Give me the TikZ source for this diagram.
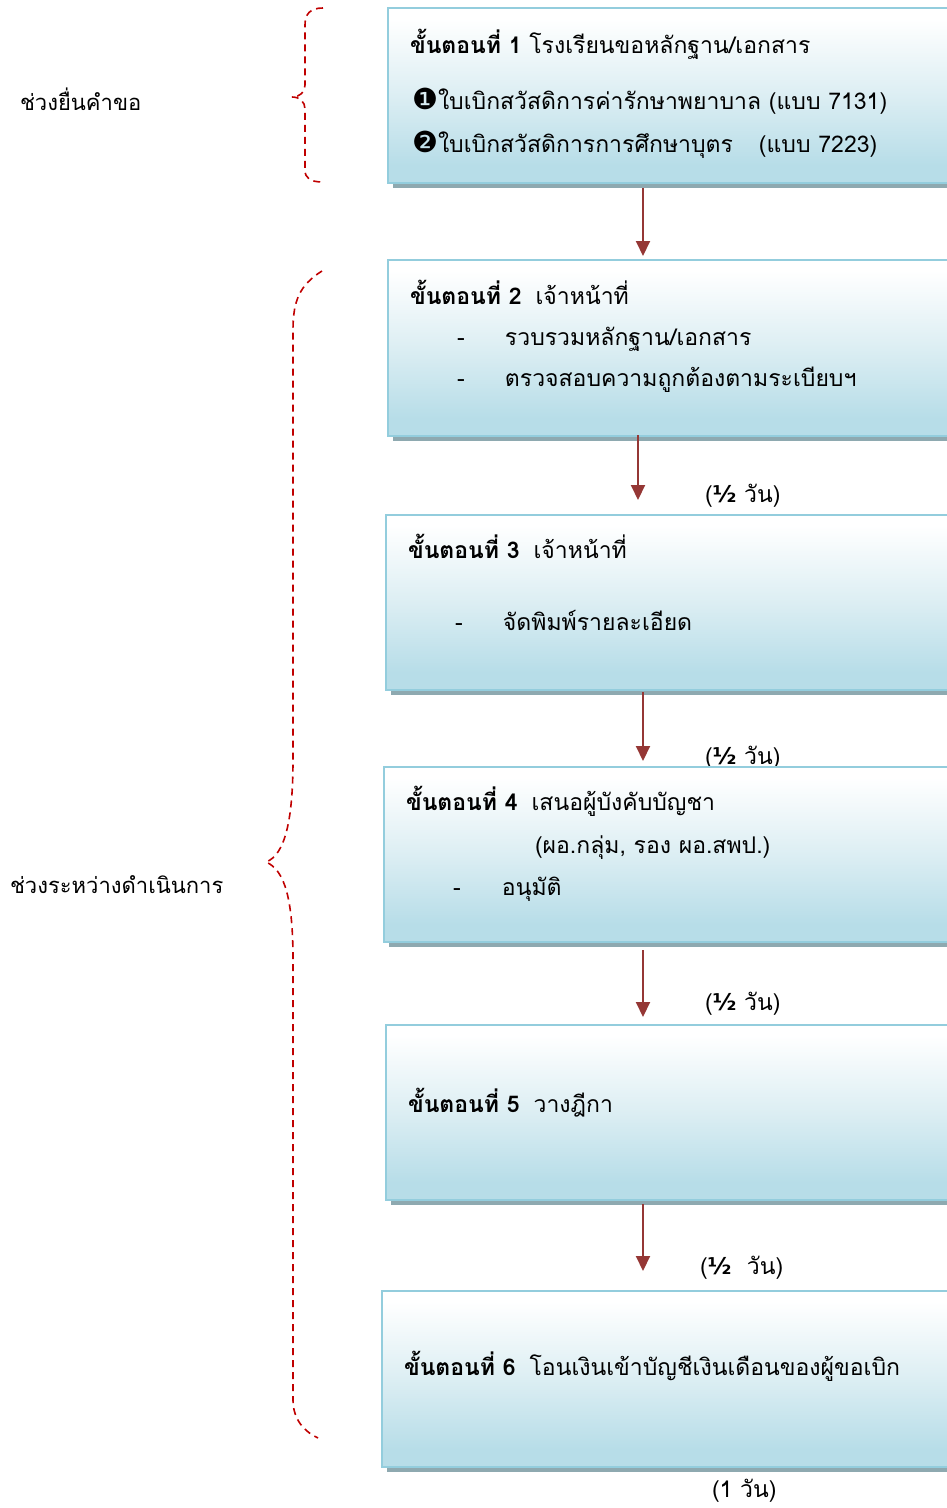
\documentclass[tikz,border=0pt]{standalone}
\usepackage{fontspec}
\setmainfont[Script=Thai]{Loma}
\newfontfamily\symfont{DejaVu Sans}
\usetikzlibrary{arrows.meta,shadows}

\definecolor{boxblue}{HTML}{B7DDE8}
\definecolor{boxmid}{HTML}{DCEEF3}
\definecolor{boxedge}{HTML}{93CDDD}
\definecolor{boxshadow}{HTML}{8EA9B0}
\definecolor{arrowred}{HTML}{953735}
\definecolor{bracered}{HTML}{C00000}

\pgfdeclareverticalshading{boxfade}{100bp}{%
  color(0bp)=(boxblue); color(30bp)=(boxblue); color(50bp)=(boxmid);
  color(72bp)=(white); color(100bp)=(white)}

\newcommand{\half}{{\symfont\bfseries ½}}
\newcommand{\bignum}[1]{{\symfont\fontsize{29}{29}\selectfont #1}}

\begin{document}
\begin{tikzpicture}[x=1pt,y=-1pt,
  every node/.style={inner sep=0pt,outer sep=0pt},
  txt/.style={font=\fontsize{23}{27}\selectfont,anchor=base west,text=black},
  sidetxt/.style={font=\fontsize{22}{26}\selectfont,anchor=base west,text=black},
  stepbox/.style={draw=boxedge,line width=2pt,shading=boxfade,
    anchor=north west,minimum width=620pt,
    drop shadow={shadow xshift=5pt,shadow yshift=-5pt,fill=boxshadow,opacity=1}},
  flowarrow/.style={draw=arrowred,line width=2pt,
    -{Triangle[width=14pt,length=15pt,fill=arrowred]}},
  brace/.style={draw=bracered,line width=1.6pt,dash pattern=on 7pt off 5pt}
]
\useasboundingbox (0,0) rectangle (946,1508);

% durations between the steps
\node[txt] (d2) at (705,502) {(\half\ วัน)};
\node[txt] (d3) at (705,764) {(\half\ วัน)};
\node[txt] (d4) at (705,1010) {(\half\ วัน)};
\node[txt] (d5) at (700,1274) {(\half\ \ วัน)};
\node[txt] (d6) at (712,1497) {(1 วัน)};

% step boxes
\node[stepbox,minimum height=175pt] (b1) at (388,8) {};
\node[stepbox,minimum height=176pt] (b2) at (388,260) {};
\node[stepbox,minimum height=175pt] (b3) at (386,515) {};
\node[stepbox,minimum height=175pt] (b4) at (384,767) {};
\node[stepbox,minimum height=175pt] (b5) at (386,1025) {};
\node[stepbox,minimum height=176pt] (b6) at (382,1291) {};

% step texts
\node[txt] (t1a) at (410,53) {\textbf{ขั้นตอนที่ 1} โรงเรียนขอหลักฐาน/เอกสาร};
\node[txt] (t1b) at (412,109) {\bignum{❶}ใบเบิกสวัสดิการค่ารักษาพยาบาล (แบบ 7131)};
\node[txt] (t1c) at (412,152) {\bignum{❷}ใบเบิกสวัสดิการการศึกษาบุตร\hspace{26pt}(แบบ 7223)};

\node[txt] (t2a) at (410,304) {\textbf{ขั้นตอนที่ 2}\hspace{14pt}เจ้าหน้าที่};
\node[txt] (t2b) at (457,345) {\makebox[48pt][l]{-}รวบรวมหลักฐาน/เอกสาร};
\node[txt] (t2c) at (457,386) {\makebox[48pt][l]{-}ตรวจสอบความถูกต้องตามระเบียบฯ};

\node[txt] (t3a) at (408,558) {\textbf{ขั้นตอนที่ 3}\hspace{14pt}เจ้าหน้าที่};
\node[txt] (t3b) at (455,630) {\makebox[48pt][l]{-}จัดพิมพ์รายละเอียด};

\node[txt] (t4a) at (406,810) {\textbf{ขั้นตอนที่ 4}\hspace{14pt}เสนอผู้บังคับบัญชา};
\node[txt] (t4b) at (535,853) {(ผอ.กลุ่ม, รอง ผอ.สพป.)};
\node[txt] (t4c) at (453,895) {\makebox[49pt][l]{-}อนุมัติ};

\node[txt] (t5a) at (408,1112) {\textbf{ขั้นตอนที่ 5}\hspace{14pt}วางฎีกา};

\node[txt] (t6a) at (404,1375) {\textbf{ขั้นตอนที่ 6}\hspace{14pt}โอนเงินเข้าบัญชีเงินเดือนของผู้ขอเบิก};

% connectors
\draw[flowarrow,shorten <=5pt,shorten >=4pt]
  ([xshift=255pt]b1.south west) -- ([xshift=255pt]b1.south west |- b2.north);
\draw[flowarrow,shorten <=-1pt,shorten >=15pt]
  ([xshift=250pt]b2.south west) -- ([xshift=250pt]b2.south west |- b3.north);
\draw[flowarrow,shorten <=2pt,shorten >=6pt]
  ([xshift=257pt]b3.south west) -- ([xshift=257pt]b3.south west |- b4.north);
\draw[flowarrow,shorten <=8pt,shorten >=8pt]
  ([xshift=259pt]b4.south west) -- ([xshift=259pt]b4.south west |- b5.north);
\draw[flowarrow,shorten <=4pt,shorten >=20pt]
  ([xshift=257pt]b5.south west) -- ([xshift=257pt]b5.south west |- b6.north);

% phase labels and braces
\node[sidetxt] (p1) at (20,110) {ช่วงยื่นคำขอ};
\node[sidetxt] (p2) at (10,893) {ช่วงระหว่างดำเนินการ};

\draw[brace] (323,8) .. controls (310,8) and (305,14) .. (305,25) -- (305,85)
  .. controls (305,92) and (300,97) .. (292,97)
  .. controls (300,97) and (305,102) .. (305,109) -- (305,170)
  .. controls (305,178) and (310,182) .. (323,182);
\draw[brace] (322,271) .. controls (300,285) and (293,300) .. (293,330) -- (293,760)
  .. controls (293,820) and (285,855) .. (266,862)
  .. controls (285,870) and (293,900) .. (293,960) -- (293,1400)
  .. controls (293,1420) and (305,1432) .. (318,1438);
\end{tikzpicture}
\end{document}
